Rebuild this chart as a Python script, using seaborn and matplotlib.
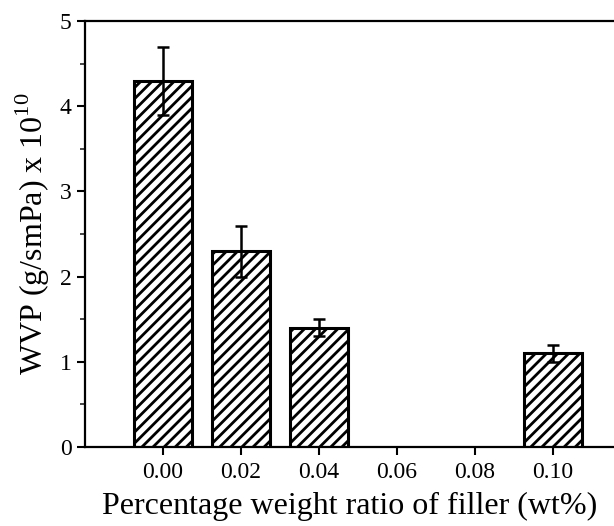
import numpy as np
import pandas as pd
import matplotlib
matplotlib.use("Agg")
import matplotlib.pyplot as plt
import seaborn as sns
from matplotlib.ticker import MultipleLocator

# data
filler = [0.00, 0.02, 0.04, 0.10]
wvp = [4.3, 2.3, 1.4, 1.1]
wvp_err = [0.4, 0.3, 0.1, 0.1]
xticks = [0.00, 0.02, 0.04, 0.06, 0.08, 0.10]
xtick_labels = ["0.00", "0.02", "0.04", "0.06", "0.08", "0.10"]

df = pd.DataFrame({"filler": filler, "wvp": wvp})

sns.set_style("ticks")
plt.rcParams["font.family"] = ["Liberation Serif", "DejaVu Serif"]
plt.rcParams["mathtext.fontset"] = "custom"
plt.rcParams["mathtext.rm"] = "Liberation Serif"
plt.rcParams["hatch.linewidth"] = 2.0

fig = plt.figure(figsize=(6.14, 5.26), dpi=100)
ax = fig.add_axes([0.1384, 0.150, 0.8616, 0.810])

sns.barplot(data=df, x="filler", y="wvp", native_scale=True, width=0.75,
            color="white", edgecolor="black", linewidth=2.2, errorbar=None, ax=ax)
for p in ax.patches:
    p.set_hatch("///")
ax.errorbar(filler, wvp, yerr=wvp_err, fmt="none", ecolor="black",
            elinewidth=1.8, capsize=4, capthick=1.8)

ax.set_xlim(-0.02, 0.1156)
ax.set_ylim(0, 5)
ax.set_xticks(xticks)
ax.set_xticklabels(xtick_labels, fontsize=17)
ax.yaxis.set_major_locator(MultipleLocator(1))
ax.yaxis.set_minor_locator(MultipleLocator(0.5))
ax.tick_params(axis="both", which="major", labelsize=17, width=1.5, length=6,
               direction="out", colors="black")
ax.tick_params(axis="x", which="major", pad=5)
ax.tick_params(axis="y", which="minor", width=1.2, length=3.5, direction="out")

for s in ["left", "bottom", "top"]:
    ax.spines[s].set_linewidth(1.6)
    ax.spines[s].set_color("black")
ax.spines["right"].set_visible(False)

ax.set_xlabel("Percentage weight ratio of filler (wt%)", fontsize=23, labelpad=6,
              color="black")
ax.set_ylabel(r"WVP (g/smPa) x 10$^{\mathregular{10}}$", fontsize=23, labelpad=6,
              color="black")

fig.savefig("out.png", dpi=100)
